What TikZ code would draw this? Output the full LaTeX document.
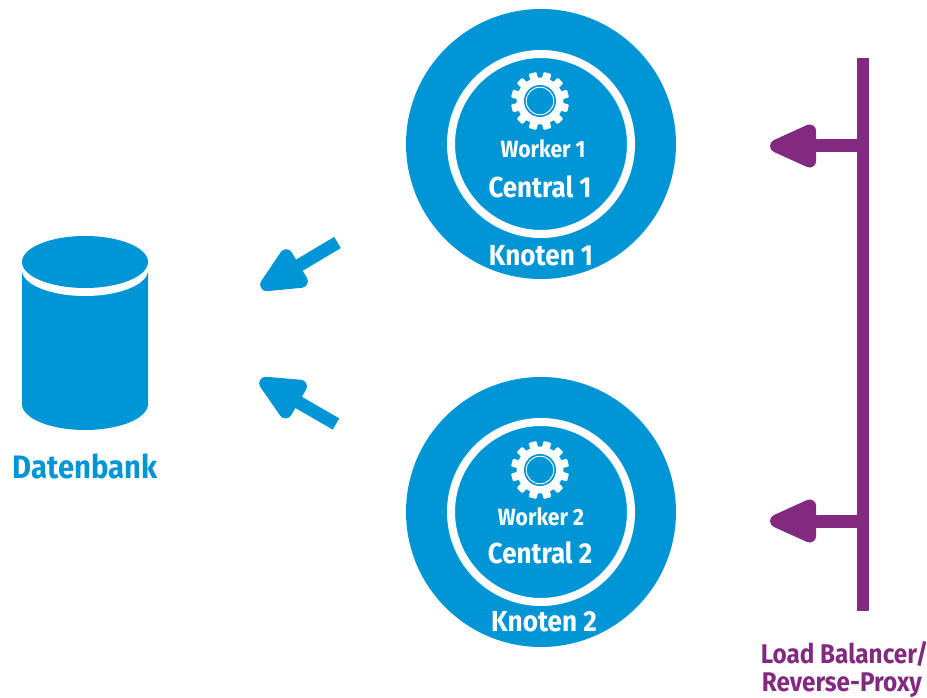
\documentclass[tikz,border=0pt]{standalone}
\usepackage{fontspec}
\setmainfont[FakeStretch=0.9]{Fira Sans}
\usetikzlibrary{arrows.meta}
\definecolor{hpblue}{HTML}{0096D6}
\definecolor{hppurple}{HTML}{822980}
\tikzset{
  x=1pt,y=-1pt,
  outercircle/.style={circle,fill=hpblue,minimum size=270pt,inner sep=0pt,outer sep=0pt},
  innerring/.style={circle,draw=white,line width=8pt,minimum size=180pt,inner sep=0pt,outer sep=0pt},
  whitelabel/.style={text=white,font=\bfseries,inner sep=0pt},
  wlabel/.style={whitelabel,font=\bfseries\fontsize{23.5}{23.5}\selectfont},
  clabel/.style={whitelabel,font=\bfseries\fontsize{28.8}{29}\selectfont},
  klabel/.style={whitelabel,font=\bfseries\fontsize{29}{29}\selectfont},
  dblabel/.style={text=hpblue,inner sep=0pt,font=\bfseries\fontsize{32.5}{33}\selectfont},
  lblabel/.style={text=hppurple,inner sep=0pt,font=\bfseries\fontsize{27}{27}\selectfont},
  bluearrow/.style={draw=hpblue,line width=13pt,-{Triangle[length=55pt,width=46pt,round]}},
  purplearrow/.style={draw=hppurple,line width=13pt,-{Triangle[length=57pt,width=46pt,round]}},
  bus/.style={draw=hppurple,line width=12pt}
}
\newcommand{\gearicon}[1]{%
  \begin{scope}[shift={(#1)}]
    \foreach \a in {0,30,...,330}
      \fill[white,rotate=\a+15,rounded corners=1pt] (-4,-29) rectangle (4,-20);
    \fill[white] (0,0) circle (23.5);
    \fill[hpblue] (0,0) circle (16);
    \draw[white,line width=0.9pt] (0,0) circle (13.8);
  \end{scope}}
\begin{document}
\begin{tikzpicture}
\useasboundingbox (0,0) rectangle (927,698);
% nodes
\node[outercircle] (k1) at (541,144) {};
\node[innerring] (i1) at (541,144) {};
\node[outercircle] (k2) at (541,512) {};
\node[innerring] (i2) at (541,512) {};
\gearicon{540,101}
\gearicon{540,470}
\node[wlabel] (w1) at (543,149) {Worker 1};
\node[clabel] (c1) at (540,187) {Central 1};
\node[klabel] (kl1) at (541,256) {Knoten 1};
\node[wlabel] (w2) at (541,517) {Worker 2};
\node[clabel] (c2) at (540,553) {Central 2};
\node[klabel] (kl2) at (544,622) {Knoten 2};
% database
\fill[hpblue] (22,270) -- (22,404) arc[start angle=180,end angle=360,x radius=63,y radius=-26] -- (148,270) -- cycle;
\fill[white] (85,270) ellipse[x radius=63,y radius=26];
\fill[hpblue] (85,262) ellipse[x radius=63,y radius=26];
\node[dblabel] (db) at (85,466) {Datenbank};
% blue arrows
\coordinate (a1s) at (337.5,242.5);
\coordinate (a1e) at (261,288);
\coordinate (a2s) at (336,424);
\coordinate (a2e) at (260,380);
\draw[bluearrow] (a1s) -- (a1e);
\draw[bluearrow] (a2s) -- (a2e);
% load balancer
\coordinate (bt) at (863,58);
\coordinate (bb) at (863,611);
\coordinate (b1) at (863,146);
\coordinate (b2) at (863,521);
\coordinate (t1) at (770,146);
\coordinate (t2) at (770,521);
\draw[bus] (bt) -- (bb);
\draw[purplearrow] (b1) -- (t1);
\draw[purplearrow] (b2) -- (t2);
\node[lblabel] (lb1) at (844.5,654) {Load Balancer/};
\node[lblabel] (lb2) at (842,685) {Reverse-Proxy};
\end{tikzpicture}
\end{document}
